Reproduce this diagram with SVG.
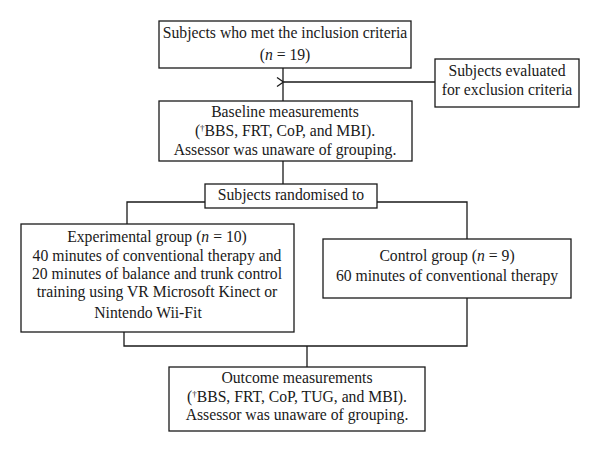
<svg xmlns="http://www.w3.org/2000/svg" width="600" height="452" viewBox="0 0 600 452">
<style>
.box{fill:#fff;stroke:#1a1a1a;stroke-width:1.3}
.ln{fill:none;stroke:#1a1a1a;stroke-width:1.3}
text{font-family:"Liberation Serif","Times New Roman",serif;font-size:15.7px;fill:#1a1a1a;text-anchor:middle}
.sup{font-size:9px}
</style>
<defs>
<marker id="open" viewBox="0 0 10 12" refX="1" refY="6" markerWidth="10" markerHeight="12" markerUnits="userSpaceOnUse" orient="auto">
<path d="M8,1.5 L1.5,6 L8,10.5" fill="none" stroke="#1a1a1a" stroke-width="1.3"/>
</marker>
</defs>
<rect width="600" height="452" fill="#fff"/>
<g id="connectors">
<line class="ln" x1="283" y1="68" x2="283" y2="101"/>
<line class="ln" x1="435" y1="82" x2="284" y2="82" marker-end="url(#open)"/>
<line class="ln" x1="283" y1="161" x2="283" y2="184"/>
<polyline class="ln" points="205,202 127,202 127,224"/>
<polyline class="ln" points="377,202 467,202 467,239"/>
<polyline class="ln" points="124,332 124,346 467,346 467,298"/>
<line class="ln" x1="307" y1="346" x2="307" y2="367"/>
</g>
<g id="inclusion">
<rect class="box" x="159" y="21" width="252" height="47"/>
<text x="285" y="38">Subjects who met the inclusion criteria</text>
<text x="285" y="60">(<tspan font-style="italic">n</tspan> = 19)</text>
</g>
<g id="exclusion">
<rect class="box" x="435" y="59" width="144" height="48"/>
<text x="507" y="76">Subjects evaluated</text>
<text x="507" y="95">for exclusion criteria</text>
</g>
<g id="baseline">
<rect class="box" x="159" y="101" width="253" height="60"/>
<text x="285" y="117">Baseline measurements</text>
<text x="285" y="136">(<tspan class="sup" dy="-5">†</tspan><tspan dy="5">BBS, FRT, CoP, and MBI).</tspan></text>
<text x="285" y="155">Assessor was unaware of grouping.</text>
</g>
<g id="randomised">
<rect class="box" x="205" y="184" width="172" height="24"/>
<text x="291" y="200">Subjects randomised to</text>
</g>
<g id="experimental">
<rect class="box" x="21" y="224" width="273" height="108"/>
<text x="157" y="242">Experimental group (<tspan font-style="italic">n</tspan> = 10)</text>
<text x="157" y="261">40 minutes of conventional therapy and</text>
<text x="157" y="279">20 minutes of balance and trunk control</text>
<text x="157" y="297">training using VR Microsoft Kinect or</text>
<text x="148" y="318">Nintendo Wii-Fit</text>
</g>
<g id="control">
<rect class="box" x="323" y="239" width="248" height="59"/>
<text x="447" y="261">Control group (<tspan font-style="italic">n</tspan> = 9)</text>
<text x="447" y="281">60 minutes of conventional therapy</text>
</g>
<g id="outcome">
<rect class="box" x="169" y="367" width="256" height="64"/>
<text x="297" y="383">Outcome measurements</text>
<text x="297" y="402">(<tspan class="sup" dy="-5">†</tspan><tspan dy="5">BBS, FRT, CoP, TUG, and MBI).</tspan></text>
<text x="297" y="420">Assessor was unaware of grouping.</text>
</g>
</svg>
